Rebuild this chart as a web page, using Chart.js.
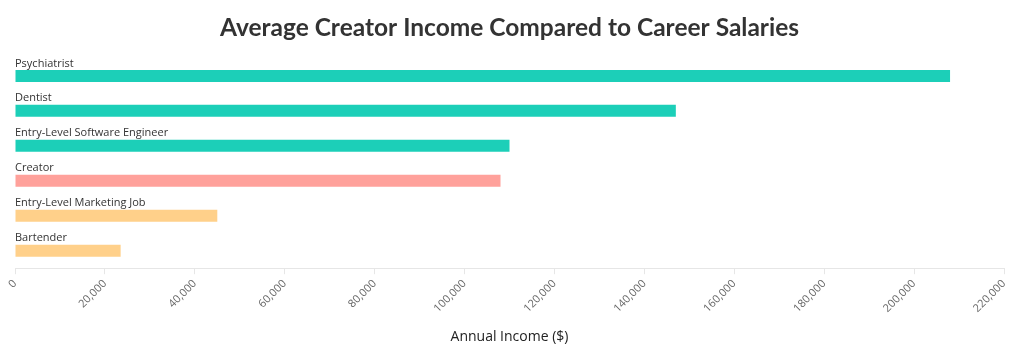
<!DOCTYPE html>
<html>
<head>
<meta charset="utf-8">
<script src="https://cdn.jsdelivr.net/npm/chart.js@4.4.0/dist/chart.umd.min.js"></script>
<style>
html,body{margin:0;padding:0;background:#fff;}
#wrap{width:1024px;height:355px;position:relative;}
</style>
</head>
<body>
<div id="wrap"><canvas id="c" width="1024" height="355"></canvas></div>
<script>
const categories = ["Psychiatrist","Dentist","Entry-Level Software Engineer","Creator","Entry-Level Marketing Job","Bartender"];
const incomes = [208000,147000,110000,108000,45000,23500];
const barColors = ["#1ccfb8","#1ccfb8","#1ccfb8","#ffa19b","#ffd08a","#ffd08a"];
const tickValues = [0,20000,40000,60000,80000,100000,120000,140000,160000,180000,200000,220000];

const labelPlugin = {
  id: 'barLabels',
  afterDatasetsDraw(chart) {
    const ctx = chart.ctx;
    const meta = chart.getDatasetMeta(0);
    ctx.save();
    ctx.font = '11px "Open Sans", sans-serif';
    ctx.fillStyle = '#333';
    ctx.textAlign = 'left';
    ctx.textBaseline = 'bottom';
    meta.data.forEach((bar, i) => {
      const top = bar.y - bar.height / 2;
      ctx.fillText(chart.data.labels[i], chart.chartArea.left, top - 1);
    });
    ctx.restore();
  }
};

new Chart(document.getElementById('c'), {
  type: 'bar',
  data: {
    labels: categories,
    datasets: [{
      data: incomes,
      backgroundColor: barColors,
      borderWidth: 0,
      barPercentage: 0.343,
      categoryPercentage: 1.0
    }]
  },
  options: {
    indexAxis: 'y',
    responsive: false,
    animation: false,
    layout: { padding: { left: 15, right: 20, top: 8, bottom: 10 } },
    plugins: {
      legend: { display: false },
      tooltip: { enabled: false },
      title: {
        display: true,
        text: 'Average Creator Income Compared to Career Salaries',
        color: '#333',
        font: { family: 'Lato', size: 24.5, weight: 'bold' },
        padding: { top: 5, bottom: 16 }
      }
    },
    scales: {
      y: { display: false },
      x: {
        min: 0,
        max: 220000,
        afterBuildTicks(axis) { axis.ticks = tickValues.map(v => ({ value: v })); },
        grid: { display: true, drawOnChartArea: false, color: '#e6e6e6', tickLength: 6 },
        border: { display: true, color: '#e6e6e6' },
        ticks: {
          minRotation: 45,
          maxRotation: 45,
          color: '#666',
          font: { family: 'Open Sans', size: 11 },
          callback: v => v.toLocaleString('en-US')
        },
        title: {
          display: true,
          text: 'Annual Income ($)',
          color: '#222',
          font: { family: 'Open Sans', size: 14 },
          padding: { top: 10, bottom: 0 }
        }
      }
    }
  },
  plugins: [labelPlugin]
});
</script>
</body>
</html>
